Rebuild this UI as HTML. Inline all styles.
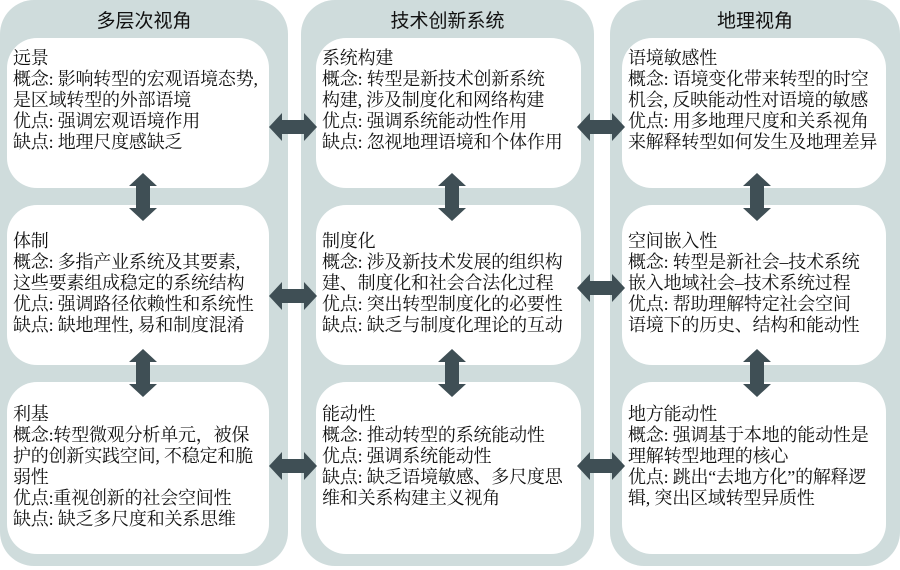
<!DOCTYPE html>
<html><head><meta charset="utf-8"><style>
body{margin:0;width:900px;height:570px;background:#fff;position:relative;overflow:hidden;font-family:"Liberation Serif","Noto Serif CJK SC",serif;}
.col{position:absolute;top:0;height:566px;background:#cfdcdc;border-radius:34px;}
.t{position:absolute;top:6px;width:100%;text-align:center;font-size:19px;color:#111;font-family:"Liberation Sans","Noto Sans CJK SC",sans-serif;}
.b{position:absolute;background:#fff;border-radius:30px;font-size:18px;line-height:21px;color:#111;padding:10px 0 0 6px;box-sizing:border-box;white-space:nowrap;letter-spacing:-0.2px;}
svg{position:absolute;left:0;top:0;}
</style></head><body>
<div class="col" style="left:0;width:288px"><div class="t">多层次视角</div></div>
<div class="col" style="left:301px;width:293px"><div class="t">技术创新系统</div></div>
<div class="col" style="left:610px;width:290px"><div class="t">地理视角</div></div>

<div class="b" style="left:7px;top:38px;width:262px;height:150px">远景<br>概念: 影响转型的宏观语境态势,<br>是区域转型的外部语境<br>优点: 强调宏观语境作用<br>缺点: 地理尺度感缺乏</div>
<div class="b" style="left:7px;top:205px;width:262px;height:160px;padding-top:26px">体制<br>概念: 多指产业系统及其要素,<br>这些要素组成稳定的系统结构<br>优点: 强调路径依赖性和系统性<br>缺点: 缺地理性, 易和制度混淆</div>
<div class="b" style="left:7px;top:382px;width:262px;height:172px;padding-top:22px">利基<br>概念:转型微观分析单元，被保<br>护的创新实践空间, 不稳定和脆<br>弱性<br>优点:重视创新的社会空间性<br>缺点: 缺乏多尺度和关系思维</div>

<div class="b" style="left:316px;top:38px;width:265px;height:150px">系统构建<br>概念: 转型是新技术创新系统<br>构建, 涉及制度化和网络构建<br>优点: 强调系统能动性作用<br>缺点: 忽视地理语境和个体作用</div>
<div class="b" style="left:316px;top:205px;width:265px;height:160px;padding-top:26px">制度化<br>概念: 涉及新技术发展的组织构<br>建、制度化和社会合法化过程<br>优点: 突出转型制度化的必要性<br>缺点: 缺乏与制度化理论的互动</div>
<div class="b" style="left:316px;top:382px;width:265px;height:172px;padding-top:22px">能动性<br>概念: 推动转型的系统能动性<br>优点: 强调系统能动性<br>缺点: 缺乏语境敏感、多尺度思<br>维和关系构建主义视角</div>

<div class="b" style="left:622px;top:38px;width:264px;height:150px">语境敏感性<br>概念: 语境变化带来转型的时空<br>机会, 反映能动性对语境的敏感<br>优点: 用多地理尺度和关系视角<br>来解释转型如何发生及地理差异</div>
<div class="b" style="left:622px;top:205px;width:264px;height:160px;padding-top:26px">空间嵌入性<br>概念: 转型是新社会–技术系统<br>嵌入地域社会–技术系统过程<br>优点: 帮助理解特定社会空间<br>语境下的历史、结构和能动性</div>
<div class="b" style="left:622px;top:382px;width:264px;height:172px;padding-top:22px">地方能动性<br>概念: 强调基于本地的能动性是<br>理解转型地理的核心<br>优点: 跳出“去地方化”的解释逻<br>辑, 突出区域转型异质性</div>

<svg width="900" height="570">
<defs>
<path id="h" d="M-24,0 L-11,-14 L-11,-7 L11,-7 L11,-14 L24,0 L11,14 L11,7 L-11,7 L-11,14 Z" fill="#3f4f55"/>
<path id="v" d="M0,-24 L-14,-11 L-7,-11 L-7,11 L-14,11 L0,24 L14,11 L7,11 L7,-11 L14,-11 Z" fill="#3f4f55"/>
</defs>
<use href="#h" x="293" y="127"/><use href="#h" x="601" y="127"/>
<use href="#h" x="293" y="296"/><use href="#h" x="601" y="288"/>
<use href="#h" x="293" y="466"/><use href="#h" x="601" y="466"/>
<use href="#v" x="143" y="197"/><use href="#v" x="452" y="197"/><use href="#v" x="757" y="197"/>
<use href="#v" x="143" y="373"/><use href="#v" x="452" y="373"/><use href="#v" x="757" y="373"/>
</svg>
</body></html>
